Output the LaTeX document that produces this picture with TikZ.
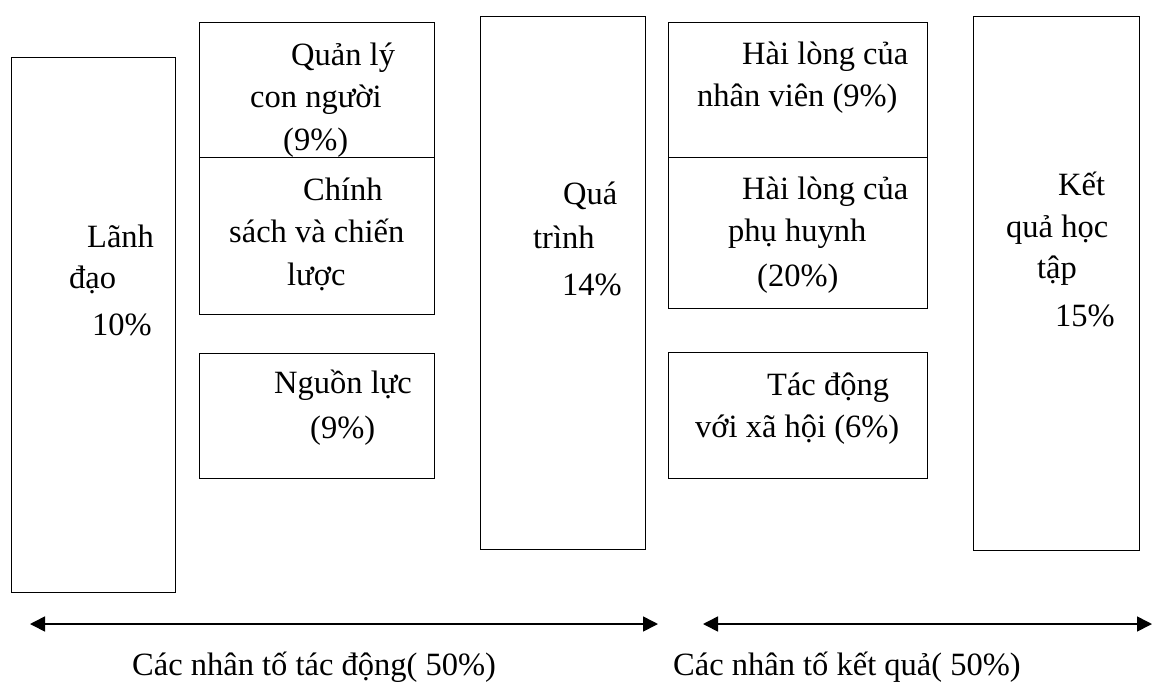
\documentclass[tikz,border=0pt]{standalone}
\usepackage{fontspec}
\setmainfont{Liberation Serif}
\usepackage{tikz}
\usetikzlibrary{arrows.meta}

\tikzset{
  box/.style={draw, line width=1.4pt, inner sep=0pt, anchor=north west},
  txt/.style={anchor=base west, inner sep=0pt, font=\fontsize{32.5}{40}\selectfont},
  span/.style={line width=1.6pt, {Triangle[length=15pt,width=15pt]}-{Triangle[length=15pt,width=15pt]}}
}

\begin{document}
\begin{tikzpicture}[x=1pt, y=-1pt]
  \useasboundingbox (0,0) rectangle (1152,681);

  \node[box, minimum width=164pt, minimum height=535pt] (lead) at (11,57) {};
  \node[txt] (lead1) at (87,247) {Lãnh};
  \node[txt] (lead2) at (69,288) {đạo};
  \node[txt] (lead3) at (92,335) {10\%};

  \node[box, minimum width=235pt, minimum height=135pt] (people) at (199,22) {};
  \node[txt] (people1) at (291,65) {Quản lý};
  \node[txt] (people2) at (250,107) {con người};
  \node[txt] (people3) at (283,150) {(9\%)};

  \node[box, minimum width=235pt, minimum height=157pt] (policy) at (199,157) {};
  \node[txt] (policy1) at (303,200) {Chính};
  \node[txt] (policy2) at (229,242) {sách và chiến};
  \node[txt] (policy3) at (287,285) {lược};

  \node[box, minimum width=235pt, minimum height=125pt] (resource) at (199,353) {};
  \node[txt] (resource1) at (274,393) {Nguồn lực};
  \node[txt] (resource2) at (310,438) {(9\%)};

  \node[box, minimum width=165pt, minimum height=533pt] (process) at (480,16) {};
  \node[txt] (process1) at (563,204) {Quá};
  \node[txt] (process2) at (533,248) {trình};
  \node[txt] (process3) at (562,295) {14\%};

  \node[box, minimum width=259pt, minimum height=135pt] (staff) at (668,22) {};
  \node[txt] (staff1) at (742,64) {Hài lòng của};
  \node[txt] (staff2) at (697,106) {nhân viên (9\%)};

  \node[box, minimum width=259pt, minimum height=151pt] (parent) at (668,157) {};
  \node[txt] (parent1) at (742,199) {Hài lòng của};
  \node[txt] (parent2) at (728,241) {phụ huynh};
  \node[txt] (parent3) at (757,286) {(20\%)};

  \node[box, minimum width=259pt, minimum height=126pt] (social) at (668,352) {};
  \node[txt] (social1) at (767,395) {Tác động};
  \node[txt] (social2) at (695,437) {với xã hội (6\%)};

  \node[box, minimum width=166pt, minimum height=534pt] (result) at (973,16) {};
  \node[txt] (result1) at (1058,195) {Kết};
  \node[txt] (result2) at (1006,237) {quả học};
  \node[txt] (result3) at (1037,278) {tập};
  \node[txt] (result4) at (1055,326) {15\%};

  % hai mui ten duoi
  \coordinate (driveL) at (30,624);
  \coordinate (driveR) at (658,624);
  \coordinate (outL) at (703,624);
  \coordinate (outR) at (1152,624);
  \draw[span] (driveL) -- (driveR);
  \draw[span] (outL) -- (outR);
  \node[txt] (drive) at (132,675) {Các nhân tố tác động( 50\%)};
  \node[txt] (out) at (673,675) {Các nhân tố kết quả( 50\%)};
\end{tikzpicture}
\end{document}
